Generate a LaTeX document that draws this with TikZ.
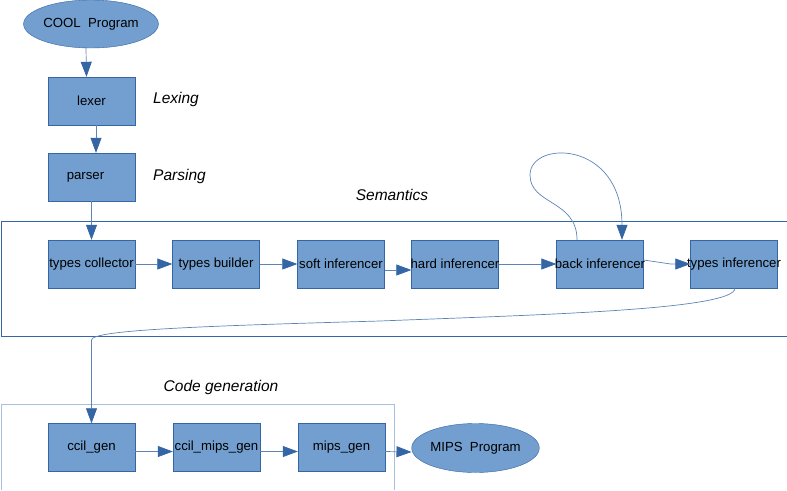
\documentclass[tikz,border=0pt]{standalone}
\usepackage{fontspec}
\setmainfont{Liberation Sans}
\usetikzlibrary{arrows.meta,shapes.geometric}
\definecolor{boxfill}{HTML}{729FCF}
\definecolor{boxline}{HTML}{3465A4}
\definecolor{frameline}{HTML}{A9BFDB}
\tikzset{
	every stage/.style={
		rectangle,
		draw=boxline,
		fill=boxfill,
		minimum width=87pt,
		minimum height=48pt,
		inner sep=0pt,
		font=\fontsize{13.2}{15}\selectfont
	},
	program/.style={
		ellipse,
		draw=boxline,
		fill=boxfill,
		minimum width=106pt,
		minimum height=48pt,
		inner sep=0pt,
		font=\fontsize{13.2}{15}\selectfont
	},
	phase/.style={
		inner sep=0pt,
		font=\fontsize{15.5}{18}\selectfont\itshape
	},
	flow/.style={
		draw=boxline!80!white,
		line width=0.7pt,
		-{Triangle[length=15pt,width=11pt,color=boxline]}
	},
}

\begin{document}
\begin{tikzpicture}[x=1pt, y=-1pt]
\useasboundingbox (0,0) rectangle (787,490);

% frames
\draw [boxline, line width=0.8pt] (787,221) -- (1,221) -- (1,336) -- (787,336);
\draw [frameline, line width=1pt] (1,490) -- (1,404) -- (394,404) -- (394,490);

\node [program] (cool) at (91,24) {COOL~~Program};
\node [every stage] (lexer) at (91.5,101) {lexer};
\node [every stage] (parser) at (91.5,177) {\hspace*{-12pt}parser};

\foreach \n/\t/\x in {tc/types collector/91.5, tb/types builder/216, si/soft inferencer/341,
		hi/hard inferencer/455, bi/back inferencer/600, ti/types inferencer/734}
	\node [every stage] (\n) at (\x,264) {\makebox[0pt]{\t}};

\foreach \n/\t/\x in {cg/ccil\_gen/91.5, cmg/ccil\_mips\_gen/216.5, mg/mips\_gen/341.5}
	\node [every stage] (\n) at (\x,447.5) {\makebox[0pt]{\t}};

\node [program, minimum width=105pt, minimum height=49pt] (mips) at (475.5,448) {MIPS~~Program};

\node [phase, anchor=west] (lexing) at (153,99) {Lexing};
\node [phase, anchor=west] (parsing) at (153,176) {Parsing};
\node [phase] (semantics) at (392,195) {Semantics};
\node [phase] (codegen) at (221,387) {Code generation};

\draw [flow] ([xshift=-5pt]cool.south) -- ([xshift=-5pt]lexer.north);
\draw [flow] ([xshift=4.5pt]lexer.south) -- ([xshift=4.5pt]parser.north);
\draw [flow] (parser) -- (tc);

\foreach \a/\b in {tc/tb, tb/si, hi/bi}
	\draw [flow] (\a) -- (\b);
\draw [flow] ([yshift=-6pt]si.east) -- ([yshift=-6pt]hi.west);
\draw [flow] ([yshift=4pt]bi.east) -- ++(27,4) -- (ti.west);

% back inferencer loop
\coordinate (loop) at (530,175);
\draw [flow] ([xshift=-23pt]bi.north) .. controls +(0,-40) and +(0,30) .. (loop)
	.. controls +(0,-35) and +(0,-100) .. ([xshift=22pt]bi.north);

% semantics to code generation
\coordinate (bend) at (380,321);
\draw [flow] ([xshift=1pt]ti.south) .. controls +(0,22) and +(150,-6) .. (bend)
	.. controls +(-180,5) and +(0,-10) .. (91.5,340) -- (cg.north);

\foreach \a/\b in {cg/cmg, cmg/mg, mg/mips}
	\draw [flow] ([yshift=-4pt]\a.east) -- ([yshift=-4pt]\b.west);

\end{tikzpicture}
\end{document}
